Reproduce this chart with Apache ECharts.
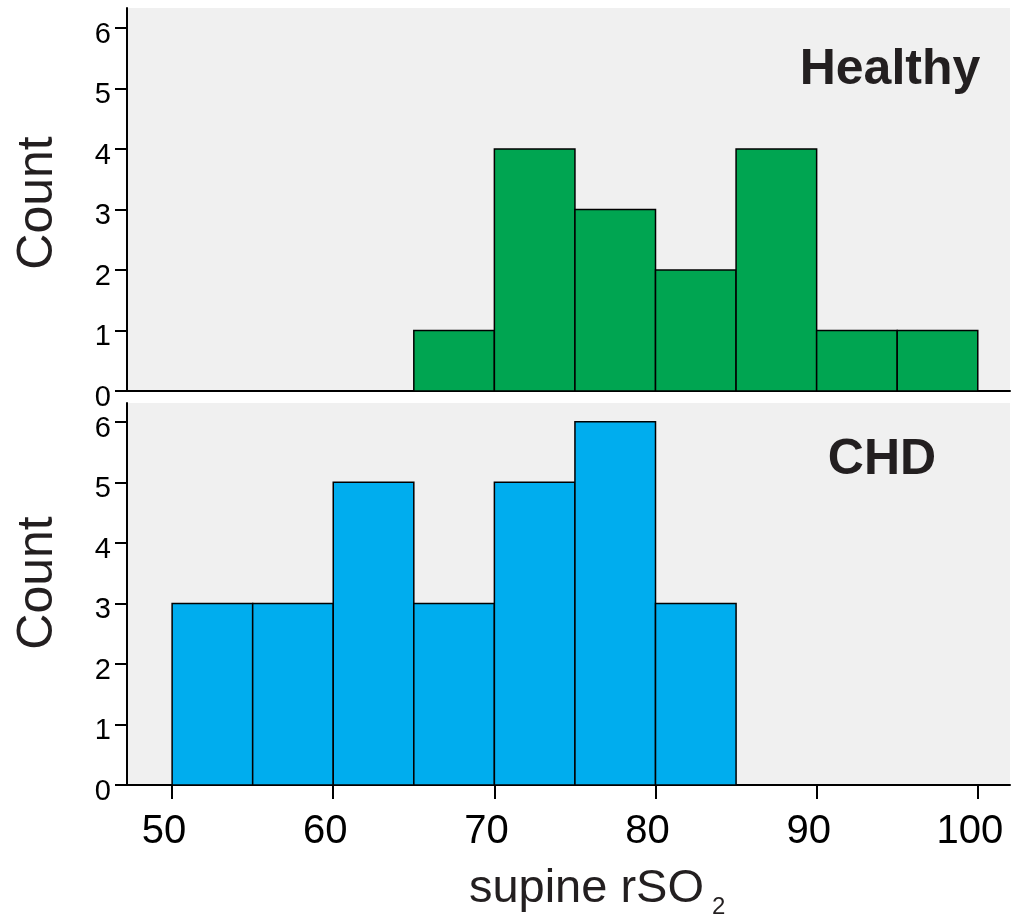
<!DOCTYPE html>
<html>
<head>
<meta charset="UTF-8">
<script src="https://cdn.jsdelivr.net/npm/echarts@6/dist/echarts.min.js"></script>
<style>
html, body { margin: 0; padding: 0; background: #fff; }
#main { width: 1011px; height: 924px; }
</style>
</head>
<body>
<div id="main"></div>
<script>
// histogram bins (left edge), width 5
var binStarts = [50, 55, 60, 65, 70, 75, 80, 85, 90, 95];
var binWidth = 5;
var healthyCounts = [0, 0, 0, 1, 4, 3, 2, 4, 1, 1];
var chdCounts = [3, 3, 5, 3, 5, 6, 3, 0, 0, 0];
var xTicks = [50, 60, 70, 80, 90, 100];
var yTicks = [0, 1, 2, 3, 4, 5, 6];

function bins(counts) {
    var out = [];
    for (var i = 0; i < binStarts.length; i++) {
        if (counts[i] > 0) out.push([binStarts[i], binStarts[i] + binWidth, counts[i]]);
    }
    return out;
}

function histItem(color) {
    return function (params, api) {
        var p0 = api.coord([api.value(0), api.value(2)]);
        var p1 = api.coord([api.value(1), 0]);
        return {
            type: 'rect',
            shape: { x: p0[0], y: p0[1], width: p1[0] - p0[0], height: p1[1] - p0[1] },
            style: { fill: color, stroke: '#000', lineWidth: 1.5 }
        };
    };
}

var font = 'Liberation Sans, Arial, sans-serif';
var textColor = '#231f20';

function yAxis(idx, max) {
    return {
        type: 'value', gridIndex: idx, min: 0, max: max,
        axisLine: { show: true, lineStyle: { color: '#000', width: 2 } },
        axisTick: { show: true, customValues: yTicks, length: 12, lineStyle: { color: '#000', width: 2 } },
        axisLabel: { customValues: yTicks, fontSize: 29, color: '#000', fontFamily: font, margin: 16,
            verticalAlign: 'top', lineHeight: 14 },
        splitLine: { show: false }
    };
}

var chart = echarts.init(document.getElementById('main'));
chart.setOption({
    animation: false,
    grid: [
        { left: 127, top: 8, width: 883, height: 383, show: true, backgroundColor: '#f0f0f0', borderWidth: 0 },
        { left: 127, top: 403, width: 883, height: 382, show: true, backgroundColor: '#f0f0f0', borderWidth: 0 }
    ],
    xAxis: [
        {
            type: 'value', gridIndex: 0, min: 47.2, max: 102,
            axisLine: { show: true, lineStyle: { color: '#000', width: 2 } },
            axisTick: { show: false }, axisLabel: { show: false }, splitLine: { show: false }
        },
        {
            type: 'value', gridIndex: 1, min: 47.2, max: 102,
            axisLine: { show: true, lineStyle: { color: '#000', width: 2 } },
            axisTick: { show: true, customValues: xTicks, length: 14, lineStyle: { color: '#000', width: 2 } },
            axisLabel: { customValues: xTicks, fontSize: 40, color: '#000', fontFamily: font, margin: 27, padding: [0, 16, 0, 0] },
            splitLine: { show: false }
        }
    ],
    yAxis: [yAxis(0, 6.33), yAxis(1, 6.31)],
    series: [
        { type: 'custom', xAxisIndex: 0, yAxisIndex: 0, data: bins(healthyCounts), renderItem: histItem('#00a551') },
        { type: 'custom', xAxisIndex: 1, yAxisIndex: 1, data: bins(chdCounts), renderItem: histItem('#00adee') }
    ],
    graphic: [
        { type: 'text', x: 890, y: 70, style: { text: 'Healthy', font: 'bold 50px ' + font, fill: textColor, align: 'center', verticalAlign: 'middle' } },
        { type: 'text', x: 882, y: 460, style: { text: 'CHD', font: 'bold 50px ' + font, fill: textColor, align: 'center', verticalAlign: 'middle' } },
        { type: 'text', x: 38, y: 203, rotation: Math.PI / 2, style: { text: 'Count', font: '50px ' + font, fill: textColor, align: 'center', verticalAlign: 'middle' } },
        { type: 'text', x: 38, y: 583, rotation: Math.PI / 2, style: { text: 'Count', font: '50px ' + font, fill: textColor, align: 'center', verticalAlign: 'middle' } },
        { type: 'text', x: 704, y: 889, style: { text: 'supine rSO', font: '47px ' + font, fill: textColor, align: 'right', verticalAlign: 'middle' } },
        { type: 'text', x: 712, y: 907, style: { text: '2', font: '24px ' + font, fill: textColor, align: 'left', verticalAlign: 'middle' } }
    ]
});
</script>
</body>
</html>
